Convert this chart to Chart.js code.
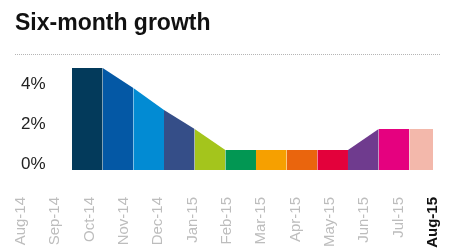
<!DOCTYPE html>
<html>
<head>
<meta charset="utf-8">
<script src="https://cdn.jsdelivr.net/npm/chart.js@4.4.1/dist/chart.umd.min.js"></script>
<style>
    html, body { margin: 0; padding: 0; background: #fff; }
    #wrap { position: relative; width: 452px; height: 251px; overflow: hidden; }
    #title {
        position: absolute; left: 15px; top: 11px;
        font: bold 23px/23px "Liberation Sans", Arial, sans-serif;
        color: #111; margin: 0;
    }
    #rule {
        position: absolute; left: 15px; top: 54px; width: 425px;
        border-top: 1px dotted #b5b5b5;
    }
    #growth-chart { position: absolute; left: 0; top: 0; }
</style>
</head>
<body>
<div id="wrap">
    <canvas id="growth-chart" width="452" height="251"></canvas>
    <h1 id="title">Six-month growth</h1>
    <div id="rule"></div>
</div>
<script>
// *** DATA ***
const months = ['Aug-14', 'Sep-14', 'Oct-14', 'Nov-14', 'Dec-14', 'Jan-15', 'Feb-15',
    'Mar-15', 'Apr-15', 'May-15', 'Jun-15', 'Jul-15', 'Aug-15'];
// growth (%) at each band edge, left to right
const growth = [5.1, 5.1, 4.1, 3.0, 2.05, 1.0, 1.0, 1.0, 1.0, 1.0, 2.05, 2.05, 2.05];
const bandColors = ['#033a5b', '#0458a5', '#028bd3', '#354e88', '#a4c51c', '#029753',
    '#f6a000', '#ea650d', '#e3013b', '#6f3b8e', '#e5017f', '#f3b8ab'];
const yTicks = [0, 2, 4];

const font = '"Liberation Sans", Arial, sans-serif';

const data = {
    labels: months,
    datasets: [{
        label: 'Growth',
        data: growth.map((v, i) => ({ x: i, y: v })),
        xAxisID: 'xb',
        fill: 'origin',
        borderWidth: 0,
        pointRadius: 0,
        tension: 0,
        clip: false,
        backgroundColor: bandColors[0],
        segment: {
            backgroundColor: ctx => bandColors[ctx.p0DataIndex]
        }
    }]
};

const config = {
    type: 'line',
    data: data,
    options: {
        responsive: false,
        animation: false,
        layout: { padding: { left: 21, right: 19, top: 68, bottom: 0 } },
        plugins: {
            legend: { display: false },
            tooltip: { enabled: false }
        },
        scales: {
            x: {
                type: 'category',
                offset: false,
                grid: { display: false, drawTicks: false },
                border: { display: false },
                ticks: {
                    minRotation: 90,
                    maxRotation: 90,
                    autoSkip: false,
                    padding: 27,
                    color: ctx => ctx.index === months.length - 1 ? '#111' : '#bdbdbd',
                    font: ctx => ({
                        family: font,
                        size: 15,
                        weight: ctx.index === months.length - 1 ? 'bold' : 'normal'
                    })
                },
                afterFit: axis => {
                    axis.height = 81;
                    axis.paddingLeft = 0;
                    axis.paddingRight = 0;
                }
            },
            xb: {
                type: 'linear',
                display: false,
                min: -1.663,
                max: 11.772
            },
            y: {
                min: 0,
                max: 5.1,
                grid: { display: false, drawTicks: false },
                border: { display: false },
                afterBuildTicks: axis => { axis.ticks = yTicks.map(v => ({ value: v })); },
                afterFit: axis => {
                    axis.width = 0;
                    axis.paddingTop = 0;
                    axis.paddingBottom = 0;
                },
                ticks: {
                    mirror: true,
                    padding: 0,
                    labelOffset: -6,
                    color: '#222',
                    font: { family: font, size: 17 },
                    callback: v => v + '%'
                }
            }
        }
    }
};

const growthChart = new Chart(document.getElementById('growth-chart'), config);
</script>
</body>
</html>
